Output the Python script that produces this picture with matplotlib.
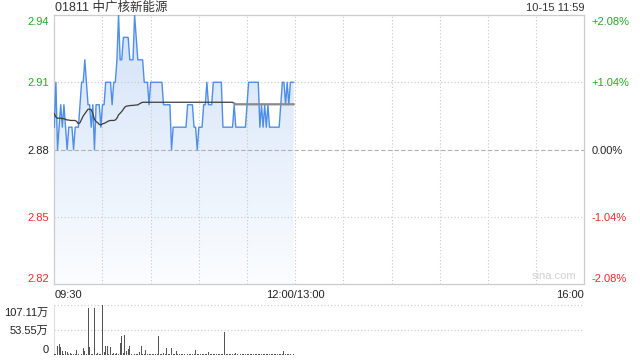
import matplotlib
matplotlib.use("Agg")
import matplotlib.pyplot as plt
import matplotlib.transforms as mtransforms
import numpy as np

plt.rcParams['font.family'] = ['Liberation Sans', 'Noto Sans CJK SC', 'DejaVu Sans']

title = "01811 中广核新能源"
stamp = "10-15 11:59"
prev_close = 2.88
price_ticks = [2.82, 2.85, 2.88, 2.91, 2.94]
pct_labels = ["-2.08%", "-1.04%", "0.00%", "+1.04%", "+2.08%"]
x_tick_pos = [0, 150, 330]
x_tick_labels = ["09:30", "12:00/13:00", "16:00"]
vol_ticks = [0, 53.55, 107.11]
vol_labels = ["0", "53.55万", "107.11万"]

price = [
    2.89, 2.91, 2.88, 2.89, 2.90, 2.89, 2.90, 2.89, 2.88, 2.89,
    2.89, 2.89, 2.88, 2.89, 2.89, 2.89, 2.90, 2.91, 2.91, 2.92,
    2.91, 2.90, 2.90, 2.89, 2.90, 2.88, 2.90, 2.90, 2.90, 2.89,
    2.90, 2.90, 2.91, 2.91, 2.91, 2.91, 2.90, 2.91, 2.91, 2.92,
    2.94, 2.92, 2.92, 2.93, 2.93, 2.93, 2.93, 2.92, 2.92, 2.92,
    2.94, 2.93, 2.92, 2.92, 2.92, 2.92, 2.91, 2.91, 2.91, 2.90,
    2.91, 2.91, 2.91, 2.91, 2.91, 2.91, 2.91, 2.91, 2.90, 2.90,
    2.90, 2.90, 2.90, 2.88, 2.89, 2.89, 2.89, 2.89, 2.89, 2.89,
    2.89, 2.89, 2.89, 2.90, 2.90, 2.90, 2.90, 2.89, 2.89, 2.88,
    2.89, 2.89, 2.89, 2.90, 2.90, 2.91, 2.90, 2.90, 2.90, 2.91,
    2.91, 2.91, 2.91, 2.91, 2.91, 2.89, 2.89, 2.89, 2.89, 2.89,
    2.89, 2.89, 2.90, 2.89, 2.89, 2.89, 2.89, 2.89, 2.89, 2.89,
    2.90, 2.91, 2.91, 2.91, 2.91, 2.91, 2.91, 2.91, 2.89, 2.90,
    2.89, 2.90, 2.89, 2.90, 2.89, 2.89, 2.89, 2.89, 2.89, 2.89,
    2.89, 2.90, 2.91, 2.91, 2.90, 2.91, 2.90, 2.91, 2.91, 2.91,
]

avg_price = [
    2.8960, 2.8945, 2.8940, 2.8940, 2.8940, 2.8938, 2.8938, 2.8935, 2.8932, 2.8932,
    2.8930, 2.8930, 2.8930, 2.8930, 2.8925, 2.8915, 2.8920, 2.8935, 2.8950, 2.8960,
    2.8970, 2.8980, 2.8980, 2.8978, 2.8960, 2.8935, 2.8925, 2.8920, 2.8912, 2.8910,
    2.8915, 2.8917, 2.8920, 2.8925, 2.8928, 2.8930, 2.8930, 2.8930, 2.8932, 2.8940,
    2.8955, 2.8962, 2.8970, 2.8980, 2.8990, 2.8994, 2.8995, 2.8996, 2.8997, 2.8997,
    2.8998, 2.8999, 2.8999, 2.9004, 2.9008, 2.9011, 2.9011, 2.9011, 2.9011, 2.9011,
    2.9011, 2.9011, 2.9011, 2.9011, 2.9011, 2.9011, 2.9011, 2.9011, 2.9011, 2.9011,
    2.9011, 2.9011, 2.9011, 2.9011, 2.9011, 2.9011, 2.9011, 2.9011, 2.9011, 2.9011,
    2.9011, 2.9011, 2.9011, 2.9011, 2.9011, 2.9011, 2.9011, 2.9011, 2.9011, 2.9011,
    2.9011, 2.9011, 2.9011, 2.9011, 2.9011, 2.9011, 2.9011, 2.9011, 2.9011, 2.9011,
    2.9011, 2.9011, 2.9011, 2.9011, 2.9011, 2.9011, 2.9011, 2.9011, 2.9011, 2.9011,
    2.9011, 2.9011, 2.9006, 2.9002, 2.9002, 2.9002, 2.9002, 2.9002, 2.9002, 2.9002,
    2.9002, 2.9002, 2.9002, 2.9002, 2.9002, 2.9002, 2.9002, 2.9002, 2.9002, 2.9002,
    2.9002, 2.9002, 2.9002, 2.9002, 2.9002, 2.9002, 2.9002, 2.9002, 2.9002, 2.9002,
    2.9002, 2.9002, 2.9002, 2.9002, 2.9002, 2.9002, 2.9002, 2.9002, 2.9002, 2.9002,
]

volume = [
    2.0, 1.5, 17.7, 22.8, 15.6, 7.0, 1.2, 8.5, 5.7, 1.0,
    3.5, 1.2, 1.0, 1.5, 9.2, 1.0, 12.0, 1.2, 14.2, 7.0,
    1.0, 99.4, 16.3, 1.0, 2.0, 99.4, 1.0, 3.0, 2.0, 1.0,
    107.11, 5.7, 18.5, 18.5, 1.2, 17.0, 1.0, 3.0, 1.0, 3.0,
    1.0, 24.8, 39.0, 3.0, 42.0, 8.5, 12.8, 18.5, 2.0, 1.0,
    1.0, 2.0, 1.0, 5.7, 17.7, 2.0, 1.0, 10.0, 1.0, 2.0,
    1.0, 1.0, 2.0, 1.0, 1.0, 39.8, 1.0, 1.0, 3.0, 1.0,
    14.2, 1.0, 1.0, 14.2, 1.0, 1.0, 8.5, 1.5, 1.0, 1.2,
    1.0, 1.5, 1.0, 1.2, 1.0, 1.5, 1.0, 1.0, 10.0, 1.2,
    1.0, 1.5, 1.0, 1.2, 2.5, 1.0, 5.0, 1.5, 1.0, 1.2,
    1.5, 1.0, 1.2, 1.0, 1.5, 1.0, 48.3, 1.2, 1.0, 1.5,
    1.0, 1.2, 1.0, 4.0, 1.5, 1.0, 1.2, 1.0, 1.5, 1.0,
    1.2, 1.0, 1.5, 1.0, 1.2, 1.0, 1.5, 1.0, 1.2, 2.0,
    1.0, 1.5, 1.0, 1.2, 1.0, 1.5, 1.0, 1.2, 1.0, 1.5,
    1.0, 1.2, 1.0, 8.5, 1.5, 1.0, 1.2, 1.0, 1.5, 1.0,
]

minutes = np.arange(len(price))

GREEN = '#22aa22'
RED = '#ee2b2b'
TEXT = '#222222'
GRID = '#c8c8c8'

fig = plt.figure(figsize=(6.4, 3.6), dpi=100)
W, H = 640.0, 360.0
L, R = 54.3, 584.3
T, B = 14.9, 284.4
ax = fig.add_axes([L / W, 1 - B / H, (R - L) / W, (B - T) / H])
ax.set_xlim(0, 330)
ax.set_ylim(price_ticks[0], price_ticks[-1])

# gradient fill under price
verts = [(minutes[0], price_ticks[0])] + list(zip(minutes, price)) + [(minutes[-1], price_ticks[0])]
poly = plt.Polygon(verts, closed=True, facecolor='none', edgecolor='none')
ax.add_patch(poly)
grad = np.linspace(0, 1, 256).reshape(-1, 1)
from matplotlib.colors import LinearSegmentedColormap
cmap = LinearSegmentedColormap.from_list('g', ['#fbfdff', '#d3e2f8'])
im = ax.imshow(grad, cmap=cmap, aspect='auto', origin='lower',
               extent=[0, 330, price_ticks[0], price_ticks[-1]], zorder=1)
im.set_clip_path(poly)

ax.plot(minutes, price, color='#4d8ee8', lw=1.0, zorder=3)
split = 112
ax.plot(minutes[:split + 1], avg_price[:split + 1], color='#3c3c3c', lw=0.9, zorder=4)
ax.plot(minutes[split:], avg_price[split:], color='#8a8a8a', lw=1.6, zorder=4)

# grid
for xv in range(30, 330, 30):
    ax.axvline(xv, color=GRID, lw=0.8, ls=(0, (1, 2)), zorder=2)
for yv in [2.85, 2.91]:
    ax.axhline(yv, color=GRID, lw=0.8, ls=(0, (1, 2)), zorder=2)
ax.axhline(prev_close, color='#b0b0b0', lw=0.8, ls=(0, (4, 2)), zorder=2)

for s in ax.spines.values():
    s.set_color('#cccccc')
    s.set_linewidth(0.9)

colors = [RED, RED, TEXT, GREEN, GREEN]
ax.set_yticks(price_ticks)
ax.set_yticklabels([f"{v:.2f}" for v in price_ticks])
ax.tick_params(axis='y', length=0, pad=4, labelsize=8)
for lab, c in zip(ax.get_yticklabels(), colors):
    lab.set_color(c)
labs = ax.get_yticklabels()
labs[0].set_transform(labs[0].get_transform() + mtransforms.ScaledTranslation(0, 6 / 100, fig.dpi_scale_trans))
labs[-1].set_transform(labs[-1].get_transform() + mtransforms.ScaledTranslation(0, -6 / 100, fig.dpi_scale_trans))

ax.set_xticks(x_tick_pos)
ax.set_xticklabels(x_tick_labels)
ax.tick_params(axis='x', length=0, pad=4, labelsize=8, labelcolor=TEXT)
xl = ax.get_xticklabels()
xl[0].set_horizontalalignment('left')
xl[1].set_horizontalalignment('center')
xl[2].set_horizontalalignment('right')

axr = ax.twinx()
axr.set_ylim(ax.get_ylim())
axr.set_yticks(price_ticks)
axr.set_yticklabels(pct_labels)
axr.tick_params(axis='y', length=0, pad=5, labelsize=8)
for lab, c in zip(axr.get_yticklabels(), colors):
    lab.set_color(c)
rl = axr.get_yticklabels()
rl[0].set_transform(rl[0].get_transform() + mtransforms.ScaledTranslation(0, 6 / 100, fig.dpi_scale_trans))
rl[-1].set_transform(rl[-1].get_transform() + mtransforms.ScaledTranslation(0, -6 / 100, fig.dpi_scale_trans))
for s in axr.spines.values():
    s.set_visible(False)

fig.text(L / W + 0.001, 1 - 7.5 / H, title, ha='left', va='center', fontsize=9, color='#333333')
fig.text(R / W, 1 - 8 / H, stamp, ha='right', va='center', fontsize=8, color='#333333')
ax.text(0.985, 0.012, "sina.com", transform=ax.transAxes, ha='right', va='bottom',
        fontsize=8, color='#d0d0d0', zorder=5)

# volume panel
VT, VB = 304.7, 354.7
axv = fig.add_axes([L / W, 1 - VB / H, (R - L) / W, (VB - VT) / H])
axv.set_xlim(0, 330)
axv.set_ylim(0, vol_ticks[-1])
axv.bar(minutes, volume, width=0.6, color='#555555', zorder=3)
for yv in vol_ticks:
    axv.axhline(yv, color=GRID, lw=0.8, ls=(0, (1, 2)), zorder=1)
for name, s in axv.spines.items():
    s.set_visible(name == 'left')
    s.set_color('#dddddd')
axv.set_xticks([])
axv.set_yticks(vol_ticks)
axv.set_yticklabels(vol_labels)
axv.tick_params(axis='y', length=0, pad=4, labelsize=8, labelcolor=TEXT)
vl = axv.get_yticklabels()
vl[0].set_transform(vl[0].get_transform() + mtransforms.ScaledTranslation(0, 6 / 100, fig.dpi_scale_trans))
vl[-1].set_transform(vl[-1].get_transform() + mtransforms.ScaledTranslation(0, -7 / 100, fig.dpi_scale_trans))

fig.savefig("out.png", dpi=100)
